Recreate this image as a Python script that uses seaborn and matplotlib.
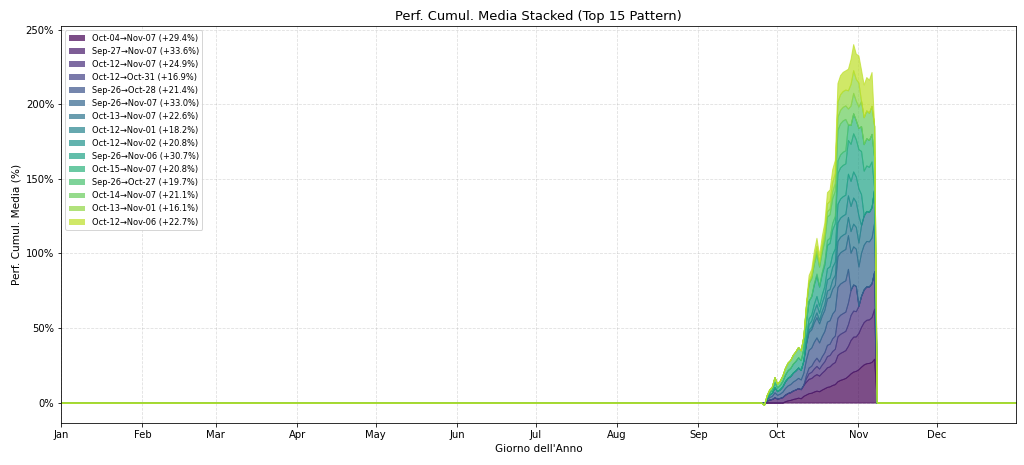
import pandas as pd
import numpy as np
import seaborn as sns
import matplotlib.pyplot as plt
import matplotlib.dates as mdates
from matplotlib.ticker import PercentFormatter

# Pattern (etichette legenda) e data di inizio di ciascuno
etichette = [
    'Oct-04→Nov-07 (+29.4%)', 'Sep-27→Nov-07 (+33.6%)', 'Oct-12→Nov-07 (+24.9%)',
    'Oct-12→Oct-31 (+16.9%)', 'Sep-26→Oct-28 (+21.4%)', 'Sep-26→Nov-07 (+33.0%)',
    'Oct-13→Nov-07 (+22.6%)', 'Oct-12→Nov-01 (+18.2%)', 'Oct-12→Nov-02 (+20.8%)',
    'Sep-26→Nov-06 (+30.7%)', 'Oct-15→Nov-07 (+20.8%)', 'Sep-26→Oct-27 (+19.7%)',
    'Oct-14→Nov-07 (+21.1%)', 'Oct-13→Nov-01 (+16.1%)', 'Oct-12→Nov-06 (+22.7%)',
]
inizi = [
    '2023-10-04', '2023-09-27', '2023-10-12', '2023-10-12', '2023-09-26',
    '2023-09-26', '2023-10-13', '2023-10-12', '2023-10-12', '2023-09-26',
    '2023-10-15', '2023-09-26', '2023-10-14', '2023-10-13', '2023-10-12',
]

# Performance cumulata media giorno per giorno (%)
s01 = [0.9, 1.5, 1.8, 2.4, 2.8, 3.3, 2.9,
       4.5, 5.4, 6.3, 6.6, 7.4, 8.0, 7.6, 8.7, 9.6, 10.5,
       10.9, 11.8, 12.4, 14.3, 15.2, 15.8, 16.5, 17.9, 19.6, 20.8, 21.3,
       22.4, 24.1, 25.6, 26.4, 26.6, 27.3, 29.4]
s02 = [1.3, 2.0, 2.4, 3.5,
       2.7, 3.1, 3.7, 4.4, 4.9, 5.2, 5.7, 6.0, 6.4, 6.1,
       7.4, 8.6, 9.6, 9.9, 10.6, 11.1, 10.5, 11.3, 12.0, 13.2,
       13.4, 14.3, 14.8, 17.6, 18.1, 18.4, 18.7, 20.2, 22.4, 23.4, 23.1,
       24.3, 26.7, 28.4, 29.1, 29.2, 30.0, 33.6]
s03 = [2.3, 3.8, 4.1, 4.9, 5.5, 4.7, 5.5, 6.1, 7.5,
       7.6, 8.5, 8.9, 12.5, 12.8, 12.9, 12.9, 14.5, 16.8, 17.5, 16.9,
       18.2, 20.8, 21.9, 22.4, 22.1, 22.7, 24.9]
s04 = [2.3, 3.8, 4.1, 4.9, 5.5, 4.7, 5.5, 6.1, 7.5,
       7.6, 8.5, 8.9, 12.5, 12.8, 12.9, 12.9, 14.5, 16.8, 17.5, 16.9]
s05 = [-0.4, 0.9, 1.7, 2.1, 3.4,
       2.5, 2.9, 3.6, 4.5, 5.1, 5.4, 6.0, 6.4, 6.9, 6.5,
       8.1, 10.4, 11.9, 12.2, 13.0, 13.6, 12.8, 13.6, 14.2, 15.6,
       15.7, 16.6, 17.0, 20.6, 20.9, 21.0, 21.0, 22.6]
s06 = [-0.4, 0.9, 1.7, 2.1, 3.4,
       2.5, 2.9, 3.6, 4.5, 5.1, 5.4, 6.0, 6.4, 6.9, 6.5,
       8.1, 10.4, 11.9, 12.2, 13.0, 13.6, 12.8, 13.6, 14.2, 15.6,
       15.7, 16.6, 17.0, 20.6, 20.9, 21.0, 21.0, 22.6, 24.9, 25.6, 25.0,
       26.3, 28.9, 30.0, 30.5, 30.2, 30.7, 33.0]
s07 = [1.5, 1.8, 2.6, 3.2, 2.4, 3.2, 3.8, 5.2,
       5.3, 6.2, 6.6, 10.2, 10.5, 10.6, 10.6, 12.2, 14.5, 15.2, 14.6,
       16.1, 18.5, 19.6, 20.1, 19.8, 20.3, 22.6]
s08 = [2.3, 3.8, 4.1, 4.9, 5.5, 4.7, 5.5, 6.1, 7.5,
       7.6, 8.5, 8.9, 12.5, 12.8, 12.9, 12.9, 14.5, 16.8, 17.5, 16.9,
       18.2]
s09 = [2.3, 3.8, 4.1, 4.9, 5.5, 4.7, 5.5, 6.1, 7.5,
       7.6, 8.5, 8.9, 12.5, 12.8, 12.9, 12.9, 14.5, 16.8, 17.5, 16.9,
       18.2, 20.8]
s10 = [-0.4, 0.9, 1.7, 2.1, 3.4,
       2.5, 2.9, 3.6, 4.5, 5.1, 5.4, 6.0, 6.4, 6.9, 6.5,
       8.1, 10.4, 11.9, 12.2, 13.0, 13.6, 12.8, 13.6, 14.2, 15.6,
       15.7, 16.6, 17.0, 20.6, 20.9, 21.0, 21.0, 22.6, 24.9, 25.6, 25.0,
       26.3, 28.9, 30.0, 30.5, 30.2, 30.7]
s11 = [0.8, 1.4, 0.6, 1.4, 2.0, 3.4,
       3.5, 4.4, 4.8, 8.4, 8.7, 8.8, 8.8, 10.4, 12.7, 13.4, 12.8,
       14.1, 16.7, 17.8, 18.3, 18.0, 18.5, 20.8]
s12 = [-0.4, 0.9, 1.7, 2.1, 3.4,
       2.5, 2.9, 3.6, 4.5, 5.1, 5.4, 6.0, 6.4, 6.9, 6.5,
       8.1, 10.4, 11.9, 12.2, 13.0, 13.6, 12.8, 13.6, 14.2, 15.6,
       15.7, 16.6, 17.0, 20.6, 20.9, 21.0, 21.0]
s13 = [0.3, 1.1, 1.7, 0.9, 1.7, 2.3, 3.7,
       3.8, 4.7, 5.1, 8.7, 9.0, 9.1, 9.1, 10.7, 13.0, 13.7, 13.1,
       14.4, 17.0, 18.1, 18.6, 18.3, 18.8, 21.1]
s14 = [1.5, 1.8, 2.6, 3.2, 2.4, 3.2, 3.8, 5.2,
       5.3, 6.2, 6.6, 10.2, 10.5, 10.6, 10.6, 12.2, 14.5, 15.2, 14.6,
       16.1]
s15 = [2.3, 3.8, 4.1, 4.9, 5.5, 4.7, 5.5, 6.1, 7.5,
       7.6, 8.5, 8.9, 12.5, 12.8, 12.9, 12.9, 14.5, 16.8, 17.5, 16.9,
       18.2, 20.8, 21.9, 22.4, 22.1, 22.7]
serie = [s01, s02, s03, s04, s05, s06, s07, s08, s09, s10, s11, s12, s13, s14, s15]

# Tabella giornaliera dell'anno: zero fuori dalla finestra del pattern
giorni = pd.date_range('2023-01-01', '2023-12-31', freq='D')
df = pd.DataFrame(0.0, index=giorni, columns=etichette)
for lab, ini, vals in zip(etichette, inizi, serie):
    idx = pd.date_range(ini, periods=len(vals), freq='D')
    df.loc[idx, lab] = vals

sns.set_style('ticks', {'axes.edgecolor': 'black', 'text.color': 'black',
                        'axes.labelcolor': 'black', 'xtick.color': 'black',
                        'ytick.color': 'black', 'patch.force_edgecolor': False})
plt.rcParams['font.family'] = ['DejaVu Sans']

colori = sns.color_palette(plt.cm.viridis(np.linspace(0, 0.9, len(etichette))))

fig, ax = plt.subplots(figsize=(1024 / 72, 465 / 72), dpi=72)
fig.subplots_adjust(left=0.0596, right=0.992, top=0.944, bottom=0.0903)

strati = ax.stackplot(df.index, df.T.values, labels=etichette, colors=colori, alpha=0.7)
# bordo di ogni strato nello stesso colore del riempimento
for poly, c in zip(strati, colori):
    poly.set_edgecolor(c)
    poly.set_linewidth(1.0)

ax.set_title('Perf. Cumul. Media Stacked (Top 15 Pattern)', fontsize=13)
ax.set_xlabel("Giorno dell'Anno", fontsize=10.5)
ax.set_ylabel('Perf. Cumul. Media (%)', fontsize=10.5)
ax.set_xlim(giorni[0], giorni[-1])
ax.xaxis.set_major_locator(mdates.MonthLocator())
ax.xaxis.set_major_formatter(mdates.DateFormatter('%b'))
ax.yaxis.set_major_formatter(PercentFormatter(decimals=0))
ax.tick_params(labelsize=10)
ax.grid(True, linestyle='--', color='#b0b0b0', alpha=0.4)
leg = ax.legend(loc='upper left', fontsize=8.3)
for h in leg.legend_handles:
    h.set_edgecolor('none')

plt.savefig('out.png', dpi=72)
